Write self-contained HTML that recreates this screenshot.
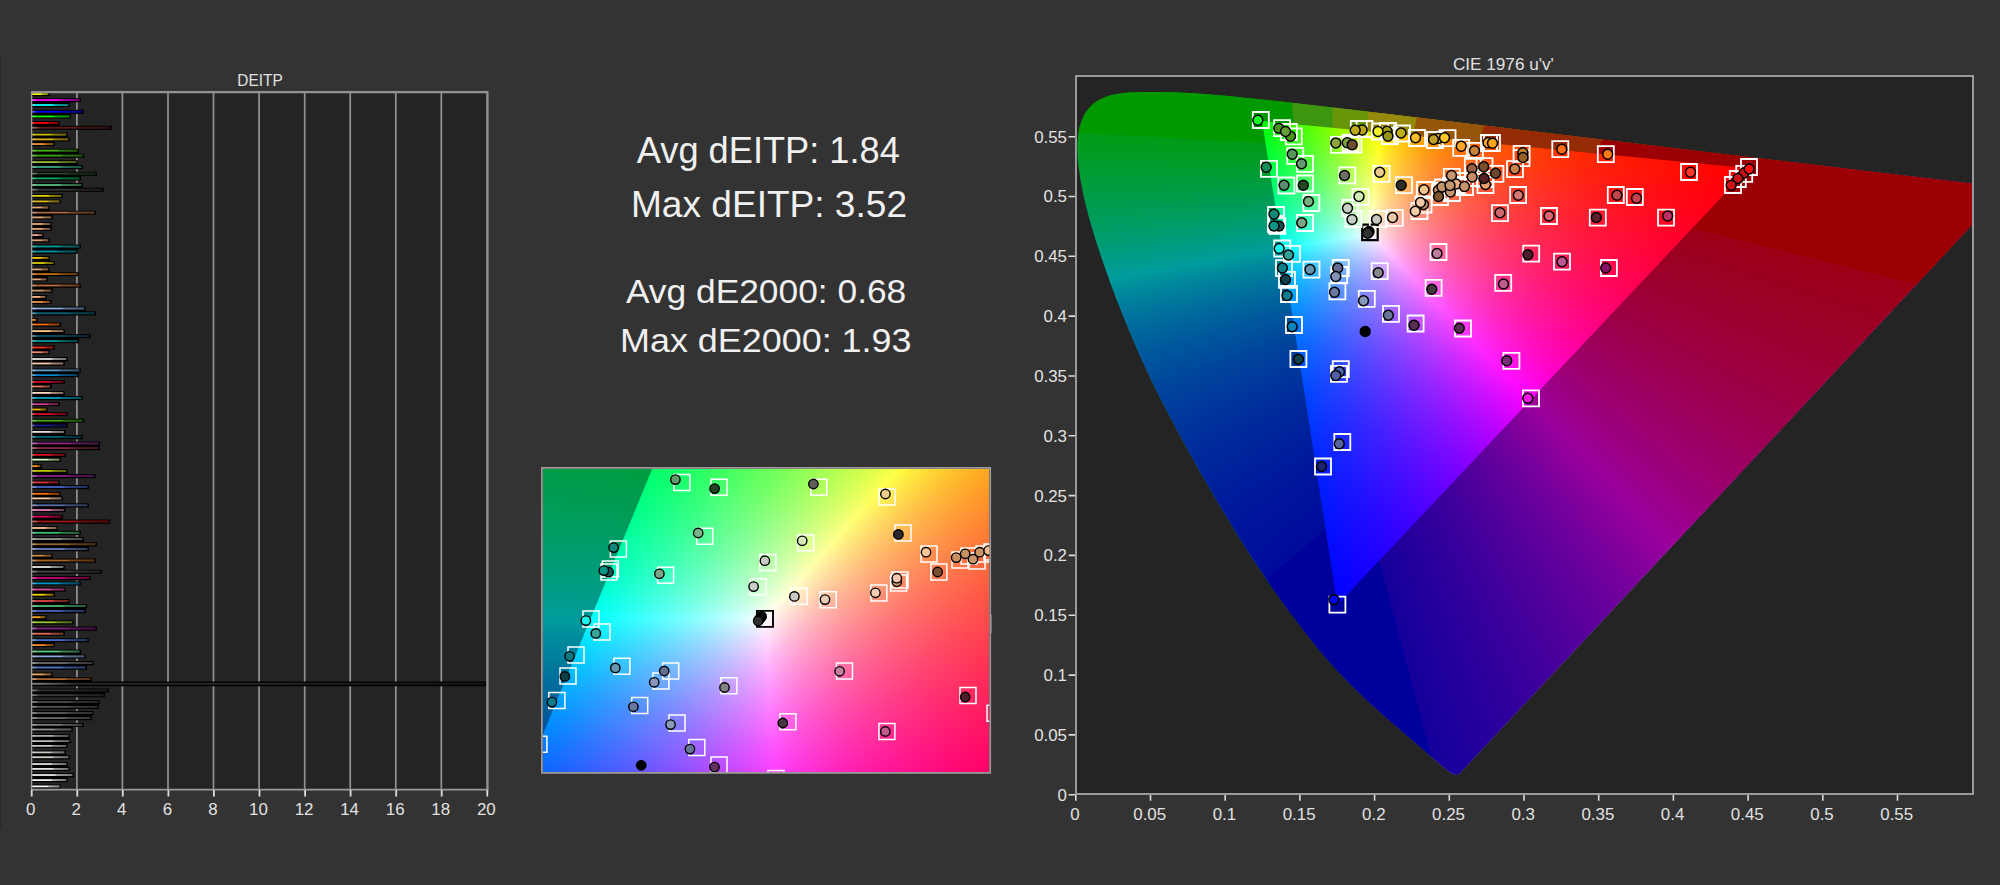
<!DOCTYPE html>
<html lang="en"><head><meta charset="utf-8"><title>ColorChecker analysis</title>
<style>html,body{margin:0;padding:0}body{width:2000px;height:885px;position:relative;overflow:hidden;background:#333333;font-family:'Liberation Sans', sans-serif}
.abs{position:absolute}svg text{font-family:'Liberation Sans', sans-serif}</style></head><body>
<div class="abs" style="left:0;top:54px;width:1px;height:775px;background:#282828"></div>
<div class="abs" style="left:31px;top:91px;width:457px;height:699px;background:#242424"></div>
<div class="abs" style="left:1075px;top:75px;width:899px;height:720px;background:#242424"></div>
<div style="position:absolute;left:1077px;top:77px;width:896px;height:716px;overflow:hidden;clip-path:polygon(382.1px 697.2px,380.8px 697.3px,380.4px 697.8px,380.0px 697.9px,376.9px 697.6px,373.7px 695.8px,370.3px 693.4px,360.2px 685.0px,344.6px 671.3px,306.1px 638.1px,288.5px 622.1px,273.5px 607.6px,256.9px 590.0px,244.1px 575.3px,229.6px 557.3px,213.6px 536.3px,196.6px 512.7px,178.8px 486.5px,160.2px 457.4px,141.2px 426.0px,122.0px 392.9px,103.0px 358.8px,84.8px 324.2px,76.2px 306.9px,68.1px 289.7px,60.4px 272.8px,53.3px 256.3px,40.4px 224.4px,29.2px 194.5px,19.9px 167.3px,12.6px 143.0px,7.2px 121.7px,3.5px 103.1px,1.2px 87.0px,0.6px 79.8px,0.4px 73.2px,0.4px 67.1px,0.8px 61.3px,1.5px 56.0px,2.4px 51.1px,3.7px 46.5px,5.2px 42.3px,7.0px 38.5px,9.1px 35.0px,11.4px 31.9px,13.9px 29.1px,16.6px 26.6px,19.6px 24.5px,22.7px 22.6px,29.3px 19.7px,32.8px 18.6px,40.2px 17.0px,52.1px 15.6px,68.9px 15.0px,94.4px 15.2px,116.7px 16.3px,145.6px 18.5px,195.3px 23.5px,277.2px 32.9px,929.6px 110.9px);">
<div style="position:absolute;left:0;top:0;width:896px;height:716px;background:conic-gradient(from 178.15deg at 260.41px 527.99px,#000000 0deg,#000000 173.00deg,#250000 176.97deg,#4b0000 180.58deg,#5e0000 182.26deg,#720000 183.91deg,#870000 185.49deg,#9c0000 187.00deg,#9c0000 360deg),conic-gradient(from 87.88deg at 671.65px 91.32px,#00009c 0deg,#00009c 172.32deg,#000087 173.94deg,#000072 175.63deg,#00005e 177.40deg,#00004a 179.29deg,#000037 181.25deg,#000024 183.29deg,#000000 187.68deg,#000000 360deg),#009c00;background-blend-mode:screen,screen,normal;"></div>
<div style="position:absolute;left:0;top:0;width:896px;height:716px;background:conic-gradient(from 333.57deg at 185.05px 43.92px,#9c0000 0deg,#9c0000 162.42deg,#870000 165.59deg,#720000 169.03deg,#5f0000 172.82deg,#4c0000 176.87deg,#390000 181.28deg,#270000 186.12deg,#140000 191.50deg,#000000 197.58deg,#000000 360deg),conic-gradient(from 61.74deg at 671.65px 91.32px,#000000 0deg,#000000 161.54deg,#000d00 169.04deg,#001a00 175.42deg,#002a00 180.88deg,#003b00 185.51deg,#004400 187.63deg,#004f00 189.58deg,#005900 191.33deg,#006500 193.00deg,#007100 194.57deg,#007e00 195.96deg,#008c00 197.26deg,#009c00 198.46deg,#009c00 360deg),#00009c;background-blend-mode:screen,screen,normal;clip-path:polygon(-5618.55px 1178.01px,6206.29px -864.84px,7227.72px 5047.58px,-4597.12px 7090.43px);"></div>
<div style="position:absolute;left:0;top:0;width:896px;height:716px;background:conic-gradient(from 204.22deg at 260.41px 527.99px,#009c00 0deg,#009c00 160.93deg,#008c00 162.08deg,#007d00 163.42deg,#006f00 164.85deg,#006300 166.38deg,#005700 168.01deg,#004d00 169.82deg,#004200 171.83deg,#003900 173.93deg,#003000 176.22deg,#002800 178.71deg,#001900 184.44deg,#000c00 191.13deg,#000000 199.07deg,#000000 360deg),conic-gradient(from 295.78deg at 185.05px 43.92px,#000000 0deg,#000000 159.79deg,#000013 167.08deg,#000025 173.46deg,#000037 179.14deg,#000049 184.21deg,#00005d 188.87deg,#000070 193.02deg,#000085 196.77deg,#00009c 200.21deg,#00009c 360deg),#9c0000;background-blend-mode:screen,screen,normal;clip-path:polygon(293.87px 156.58px,832.34px -5819.21px,5000.90px -1503.75px,4462.43px 4472.03px);"></div>
<svg class="abs" style="left:0;top:0" width="896" height="716" viewBox="0 0 896 716"><path d="M216.60 47.00L-55.5 -2940.6L226.8 -2949.0L255.80 50.82Z" fill="#3c960f"/><path d="M255.80 50.82L226.8 -2949.0L477.0 -2940.0L290.00 54.15Z" fill="#68960a"/><path d="M290.00 54.15L477.0 -2940.0L817.4 -2902.5L336.60 58.69Z" fill="#968a0a"/><path d="M336.60 58.69L817.4 -2902.5L1280.8 -2803.4L402.20 65.07Z" fill="#965508"/><path d="M402.20 65.07L1280.8 -2803.4L2004.3 -2529.6L518.00 76.35Z" fill="#962c05"/><path d="M518.00 76.35 L2004.30 -2529.59 L3430.00 -1088.32 L3526.29 876.53 L615.31 151.14 L671.65 91.32Z" fill="#9b0005"/><path d="M302.11 483.72 L1073.73 3382.78 L-632.91 3391.91 L-2034.41 2398.27 L248.57 452.00 L260.41 527.99Z" fill="#00009b"/><path d="M216.60 47.00 L-55.49 -2940.64 L-1976.06 -2036.85 L-2807.35 -93.06 L188.44 65.71 L185.05 43.92Z" fill="#009900"/></svg>
<div style="position:absolute;left:0;top:0;width:896px;height:716px;background:conic-gradient(from 178.15deg at 260.41px 527.99px,#000000 0deg,#000000 173.00deg,#1e0000 175.04deg,#3c0000 176.97deg,#5b0000 178.82deg,#7a0000 180.58deg,#9a0000 182.26deg,#bb0000 183.91deg,#dd0000 185.49deg,#ff0000 187.00deg,#ff0000 360deg),conic-gradient(from 87.88deg at 671.65px 91.32px,#0000ff 0deg,#0000ff 172.32deg,#0000dd 173.94deg,#0000bb 175.63deg,#00009a 177.40deg,#00007a 179.29deg,#00005a 181.25deg,#00003c 183.29deg,#00001d 185.45deg,#000000 187.68deg,#000000 360deg),#00ff00;background-blend-mode:screen,screen,normal;clip-path:polygon(185.05px 43.92px,205.44px 174.90px,296.65px 159.46px,305.97px 55.70px);"></div>
<div style="position:absolute;left:0;top:0;width:896px;height:716px;background:conic-gradient(from 333.57deg at 185.05px 43.92px,#ff0000 0deg,#ff0000 162.42deg,#dd0000 165.59deg,#bc0000 169.03deg,#9b0000 172.82deg,#7c0000 176.87deg,#5e0000 181.28deg,#3f0000 186.12deg,#200000 191.50deg,#000000 197.58deg,#000000 360deg),conic-gradient(from 61.74deg at 671.65px 91.32px,#000000 0deg,#000000 161.54deg,#000a00 165.43deg,#001500 169.04deg,#002000 172.37deg,#002b00 175.42deg,#003800 178.29deg,#004400 180.88deg,#005200 183.28deg,#006000 185.51deg,#007000 187.63deg,#008100 189.58deg,#009200 191.33deg,#00a500 193.00deg,#00ba00 194.57deg,#00cf00 195.96deg,#00e600 197.26deg,#00ff00 198.46deg,#00ff00 360deg),#0000ff;background-blend-mode:screen,screen,normal;clip-path:polygon(260.41px 527.99px,456.09px 320.21px,295.93px 154.40px,293.87px 156.58px,204.98px 171.94px);"></div>
<div style="position:absolute;left:0;top:0;width:896px;height:716px;background:conic-gradient(from 204.22deg at 260.41px 527.99px,#00ff00 0deg,#00ff00 160.93deg,#00e600 162.08deg,#00cd00 163.42deg,#00b700 164.85deg,#00a200 166.38deg,#008f00 168.01deg,#007d00 169.82deg,#006d00 171.83deg,#005d00 173.93deg,#004f00 176.22deg,#004200 178.71deg,#003500 181.48deg,#002900 184.44deg,#001e00 187.69deg,#001400 191.13deg,#000a00 194.96deg,#000000 199.07deg,#000000 360deg),conic-gradient(from 295.78deg at 185.05px 43.92px,#000000 0deg,#000000 159.79deg,#00001f 167.08deg,#00003d 173.46deg,#00005a 179.14deg,#000078 184.21deg,#000098 188.87deg,#0000a8 190.99deg,#0000b8 193.02deg,#0000c9 194.95deg,#0000da 196.77deg,#0000ec 198.49deg,#0000ff 200.21deg,#0000ff 360deg),#ff0000;background-blend-mode:screen,screen,normal;clip-path:polygon(671.65px 91.32px,302.99px 55.41px,293.87px 156.58px,454.04px 322.39px);"></div>

</div>
<div style="position:absolute;left:543px;top:468.8px;width:446.29999999999995px;height:303.2px;overflow:hidden;">
<div style="position:absolute;left:0;top:0;width:446.29999999999995px;height:303.2px;background:conic-gradient(from 212.12deg at -100.42px 509.40px,#000000 0deg,#000000 170.25deg,#110000 173.33deg,#220000 176.16deg,#340000 178.80deg,#460000 181.29deg,#5a0000 183.64deg,#6f0000 185.79deg,#850000 187.84deg,#9c0000 189.75deg,#9c0000 360deg),conic-gradient(from 104.04deg at 870.12px 148.41px,#00009c 0deg,#00009c 165.85deg,#00008e 166.98deg,#000081 168.19deg,#000075 169.46deg,#00006a 170.81deg,#000054 173.72deg,#000041 176.91deg,#00002f 180.53deg,#00001e 184.58deg,#00000e 189.12deg,#000000 194.15deg,#000000 360deg),#009c00;background-blend-mode:screen,screen,normal;"></div>
<div style="position:absolute;left:0;top:0;width:446.29999999999995px;height:303.2px;background:conic-gradient(from 9.19deg at 196.68px -212.58px,#9c0000 0deg,#9c0000 166.83deg,#780000 172.11deg,#530000 178.05deg,#2d0000 184.79deg,#000000 193.17deg,#000000 360deg),conic-gradient(from 79.74deg at 870.12px 148.41px,#000000 0deg,#000000 169.86deg,#001100 173.06deg,#002200 176.01deg,#003400 178.81deg,#004700 181.40deg,#005a00 183.84deg,#006f00 186.08deg,#008400 188.16deg,#009c00 190.14deg,#009c00 360deg),#00009c;background-blend-mode:screen,screen,normal;clip-path:polygon(-5778.10px 161.80px,6221.88px 137.62px,6233.97px 6137.61px,-5766.01px 6161.79px);"></div>
<div style="position:absolute;left:0;top:0;width:446.29999999999995px;height:303.2px;background:conic-gradient(from 235.73deg at -100.42px 509.40px,#009c00 0deg,#009c00 166.13deg,#008e00 167.25deg,#008100 168.43deg,#007500 169.68deg,#006a00 170.93deg,#005400 173.78deg,#004000 176.98deg,#002e00 180.52deg,#001e00 184.48deg,#000e00 188.93deg,#000000 193.87deg,#000000 360deg),conic-gradient(from 327.11deg at 196.68px -212.58px,#000000 0deg,#000000 151.09deg,#000013 163.84deg,#000023 173.55deg,#000034 181.81deg,#000045 188.77deg,#000057 194.86deg,#000061 197.61deg,#00006b 200.22deg,#000077 202.68deg,#000082 204.86deg,#00008f 207.03deg,#00009c 208.91deg,#00009c 360deg),#9c0000;background-blend-mode:screen,screen,normal;clip-path:polygon(221.89px 149.71px,4226.04px -4318.71px,4642.50px 1666.82px,638.35px 6135.24px);"></div>

<div style="position:absolute;left:0;top:0;width:446.29999999999995px;height:303.2px;background:conic-gradient(from 212.12deg at -100.42px 509.40px,#000000 0deg,#000000 170.25deg,#1b0000 173.33deg,#370000 176.16deg,#550000 178.80deg,#730000 181.29deg,#940000 183.64deg,#b50000 185.79deg,#d90000 187.84deg,#ff0000 189.75deg,#ff0000 360deg),conic-gradient(from 104.04deg at 870.12px 148.41px,#0000ff 0deg,#0000ff 165.85deg,#0000e9 166.98deg,#0000d4 168.19deg,#0000c0 169.46deg,#0000ad 170.81deg,#00009b 172.23deg,#00008a 173.72deg,#00007a 175.28deg,#00006a 176.91deg,#00005b 178.69deg,#00004d 180.53deg,#00003f 182.52deg,#000031 184.58deg,#000018 189.12deg,#000000 194.15deg,#000000 360deg),#00ff00;background-blend-mode:screen,screen,normal;clip-path:polygon(196.68px -212.58px,46.31px 152.84px,222.17px 153.70px,435.66px -84.48px);"></div>
<div style="position:absolute;left:0;top:0;width:446.29999999999995px;height:303.2px;background:conic-gradient(from 9.19deg at 196.68px -212.58px,#ff0000 0deg,#ff0000 166.83deg,#e10000 169.40deg,#c40000 172.11deg,#a60000 175.01deg,#880000 178.05deg,#490000 184.79deg,#000000 193.17deg,#000000 360deg),conic-gradient(from 79.74deg at 870.12px 148.41px,#000000 0deg,#000000 169.86deg,#001b00 173.06deg,#003700 176.01deg,#005500 178.81deg,#007400 181.40deg,#009400 183.84deg,#00b600 186.08deg,#00d900 188.16deg,#00ff00 190.14deg,#00ff00 360deg),#0000ff;background-blend-mode:screen,screen,normal;clip-path:polygon(-100.42px 509.40px,240.97px 382.42px,224.70px 148.67px,221.89px 149.71px,47.45px 150.06px);"></div>
<div style="position:absolute;left:0;top:0;width:446.29999999999995px;height:303.2px;background:conic-gradient(from 235.73deg at -100.42px 509.40px,#00ff00 0deg,#00ff00 166.13deg,#00e900 167.25deg,#00d400 168.43deg,#00bf00 169.68deg,#00ad00 170.93deg,#009b00 172.32deg,#008a00 173.78deg,#007900 175.31deg,#006900 176.98deg,#005a00 178.71deg,#004c00 180.52deg,#003e00 182.47deg,#003100 184.48deg,#001700 188.93deg,#000000 193.87deg,#000000 360deg),conic-gradient(from 327.11deg at 196.68px -212.58px,#000000 0deg,#000000 151.09deg,#00001f 163.84deg,#00003a 173.55deg,#000048 177.90deg,#000055 181.81deg,#000063 185.43deg,#000071 188.77deg,#000080 191.96deg,#00008f 194.86deg,#00009f 197.61deg,#0000b0 200.22deg,#0000c3 202.68deg,#0000d5 204.86deg,#0000ea 207.03deg,#0000ff 208.91deg,#0000ff 360deg),#ff0000;background-blend-mode:screen,screen,normal;clip-path:polygon(870.12px 148.41px,433.02px -85.90px,221.89px 149.71px,238.15px 383.46px);"></div>

</div>
<svg class="abs" style="left:0;top:0" width="2000" height="885" viewBox="0 0 2000 885">
<defs>
<linearGradient id="sh" x1="0" y1="0" x2="1" y2="0"><stop offset="0" stop-color="#fff" stop-opacity=".45"/><stop offset=".1" stop-color="#fff" stop-opacity="0"/><stop offset=".55" stop-color="#000" stop-opacity="0"/><stop offset=".62" stop-color="#000" stop-opacity=".3"/><stop offset="1" stop-color="#000" stop-opacity=".5"/></linearGradient>
<clipPath id="ci"><rect x="543" y="468.8" width="446.29999999999995" height="303.2"/></clipPath>
<clipPath id="cm"><rect x="1077" y="77" width="896" height="716"/></clipPath>
</defs>
<g id="bars">
<path d="M76.9 92V790 M122.4 92V790 M168.0 92V790 M213.5 92V790 M259.1 92V790 M304.7 92V790 M350.2 92V790 M395.8 92V790 M441.3 92V790" stroke="#8f8f8f" stroke-width="1.75" fill="none"/>
<path d="M32 92.15H49.8V96.25H32ZM32 98.15H80.9V102.25H32ZM32 102.10H69.9V103.20H32ZM32 103.05H69.9V107.15H32ZM32 109.80H84.1V113.90H32ZM32 113.75H71.1V114.65H32ZM32 114.50H71.1V118.60H32ZM32 121.05H59.9V125.85H32ZM32 125.80H111.9V129.90H32ZM32 132.65H67.8V137.45H32ZM32 137.40H69.9V141.50H32ZM32 141.35H54.9V142.25H32ZM32 142.10H54.9V146.20H32ZM32 148.70H78.9V153.70H32ZM32 153.65H84.1V157.75H32ZM32 160.15H77.9V165.10H32ZM32 165.05H82.8V169.15H32ZM32 171.65H97.0V175.75H32ZM32 175.60H80.9V176.60H32ZM32 176.45H80.9V180.55H32ZM32 183.05H82.8V187.80H32ZM32 187.75H103.8V191.85H32ZM32 193.95H62.9V198.05H32ZM32 199.45H61.0V203.55H32ZM32 205.55H49.8V210.70H32ZM32 210.65H95.9V214.75H32ZM32 214.60H52.8V215.60H32ZM32 215.45H52.8V219.55H32ZM32 222.05H51.9V227.00H32ZM32 226.95H51.9V231.05H32ZM32 233.15H43.8V238.40H32ZM32 238.35H49.9V242.45H32ZM32 244.55H80.9V248.65H32ZM32 248.50H77.9V249.70H32ZM32 249.55H77.9V253.65H32ZM32 255.95H49.9V261.10H32ZM32 261.05H54.9V265.15H32ZM32 267.45H49.8V272.20H32ZM32 272.15H78.9V276.25H32ZM32 276.10H47.9V277.60H32ZM32 277.45H47.9V281.55H32ZM32 283.55H80.9V287.65H32ZM32 287.50H52.8V288.80H32ZM32 288.65H52.8V292.75H32ZM32 294.95H46.8V300.10H32ZM32 300.05H51.6V304.15H32ZM32 306.55H85.8V311.40H32ZM32 311.35H95.9V315.45H32ZM32 317.95H37.8V322.60H32ZM32 322.55H61.0V326.65H32ZM32 329.15H64.8V334.10H32ZM32 334.05H90.9V338.15H32ZM32 338.00H78.9V339.20H32ZM32 339.05H78.9V343.15H32ZM32 345.55H54.9V349.65H32ZM32 349.50H49.9V350.45H32ZM32 350.30H49.9V354.40H32ZM32 357.05H67.8V361.15H32ZM32 361.00H64.8V361.70H32ZM32 361.55H64.8V365.65H32ZM32 368.45H80.9V372.55H32ZM32 372.40H78.9V373.30H32ZM32 373.15H78.9V377.25H32ZM32 379.95H64.8V384.05H32ZM32 383.90H51.6V384.70H32ZM32 384.55H51.6V388.65H32ZM32 390.95H64.8V396.10H32ZM32 396.05H82.8V400.15H32ZM32 402.25H59.9V406.35H32ZM32 407.55H47.6V412.20H32ZM32 412.15H67.8V416.25H32ZM32 418.75H84.1V422.85H32ZM32 422.70H67.8V423.70H32ZM32 423.55H67.8V427.65H32ZM32 429.95H65.5V435.10H32ZM32 435.05H82.8V439.15H32ZM32 441.45H100.0V446.20H32ZM32 446.15H100.0V450.25H32ZM32 452.90H65.9V457.00H32ZM32 456.85H61.0V457.85H32ZM32 457.70H61.0V461.80H32ZM32 464.15H41.9V469.00H32ZM32 468.95H67.8V474.10H32ZM32 474.05H95.9V478.15H32ZM32 480.45H59.9V485.10H32ZM32 485.05H88.9V489.15H32ZM32 491.85H61.0V496.50H32ZM32 496.45H62.9V500.55H32ZM32 503.35H88.9V507.45H32ZM32 507.30H65.5V508.20H32ZM32 508.05H65.5V512.15H32ZM32 514.70H62.9V519.60H32ZM32 519.55H110.2V523.65H32ZM32 526.05H58.0V530.90H32ZM32 530.85H80.9V534.95H32ZM32 537.05H83.9V542.35H32ZM32 542.30H97.0V546.40H32ZM32 546.25H88.8V547.20H32ZM32 547.05H88.8V551.15H32ZM32 553.70H52.8V558.60H32ZM32 558.55H95.9V562.65H32ZM32 565.05H64.8V569.70H32ZM32 569.65H101.9V573.75H32ZM32 576.05H90.9V580.15H32ZM32 581.45H80.9V585.55H32ZM32 587.55H65.9V591.65H32ZM32 591.50H54.9V592.90H32ZM32 592.75H54.9V596.85H32ZM32 599.05H69.8V604.10H32ZM32 604.05H87.2V608.15H32ZM32 608.00H85.8V609.20H32ZM32 609.05H85.8V613.15H32ZM32 615.25H46.8V620.40H32ZM32 620.35H73.9V624.45H32ZM32 626.55H97.0V630.65H32ZM32 630.50H64.8V631.90H32ZM32 631.75H64.8V635.85H32ZM32 638.15H88.8V642.25H32ZM32 642.10H54.9V643.30H32ZM32 643.15H54.9V647.25H32ZM32 649.55H80.9V654.50H32ZM32 654.45H85.8V658.55H32ZM32 661.05H93.8V665.15H32ZM32 665.00H86.9V665.70H32ZM32 665.55H86.9V669.65H32ZM32 672.45H52.8V677.20H32ZM32 677.15H91.8V681.85H32ZM32 681.45H487.0V686.35H32ZM32 681.80H487.0V685.90H32ZM32 688.45H109.0V692.55H32ZM32 692.40H104.9V693.40H32ZM32 693.25H104.9V697.35H32ZM32 700.05H100.0V704.15H32ZM32 704.00H98.9V705.05H32ZM32 704.90H98.9V709.00H32ZM32 711.05H93.8V715.15H32ZM32 715.00H91.8V716.30H32ZM32 716.15H91.8V720.25H32ZM32 722.90H83.9V727.00H32ZM32 726.85H72.8V727.70H32ZM32 727.55H72.8V731.65H32ZM32 733.95H69.8V739.20H32ZM32 739.15H70.9V743.25H32ZM32 743.10H67.8V744.10H32ZM32 743.95H67.8V748.05H32ZM32 750.45H65.9V755.35H32ZM32 755.30H69.8V759.40H32ZM32 762.05H67.8V767.00H32ZM32 766.95H69.8V771.05H32ZM32 773.05H73.9V777.15H32ZM32 777.00H67.8V778.30H32ZM32 778.15H67.8V782.25H32ZM32 784.45H61.0V788.55H32Z" fill="#000"/>
<rect x="32.3" y="93.20" width="15.9" height="1.8" fill="#ffff00"/>
<rect x="32.3" y="99.20" width="47.0" height="1.8" fill="#ff00ff"/>
<rect x="32.3" y="104.10" width="36.0" height="1.8" fill="#00ffff"/>
<rect x="32.3" y="110.85" width="50.2" height="1.8" fill="#0000ff"/>
<rect x="32.3" y="115.55" width="37.2" height="1.8" fill="#00ff00"/>
<rect x="32.3" y="122.10" width="26.0" height="1.8" fill="#ff0000"/>
<rect x="32.3" y="126.85" width="78.0" height="1.8" fill="#5f1c1c"/>
<rect x="32.3" y="133.70" width="33.9" height="1.8" fill="#c8be00"/>
<rect x="32.3" y="138.45" width="36.0" height="1.8" fill="#dcb414"/>
<rect x="32.3" y="143.15" width="21.0" height="1.8" fill="#f09632"/>
<rect x="32.3" y="149.75" width="45.0" height="1.8" fill="#46b414"/>
<rect x="32.3" y="154.70" width="50.2" height="1.8" fill="#3caa14"/>
<rect x="32.3" y="161.20" width="44.0" height="1.8" fill="#96be32"/>
<rect x="32.3" y="166.10" width="48.9" height="1.8" fill="#3caa82"/>
<rect x="32.3" y="172.70" width="63.1" height="1.8" fill="#284628"/>
<rect x="32.3" y="177.50" width="47.0" height="1.8" fill="#00aa5a"/>
<rect x="32.3" y="184.10" width="48.9" height="1.8" fill="#5abe82"/>
<rect x="32.3" y="188.80" width="69.9" height="1.8" fill="#373737"/>
<rect x="32.3" y="195.00" width="29.0" height="1.8" fill="#e1cd00"/>
<rect x="32.3" y="200.50" width="27.1" height="1.8" fill="#dcbe1e"/>
<rect x="32.3" y="206.60" width="15.9" height="1.8" fill="#e6aa6e"/>
<rect x="32.3" y="211.70" width="62.0" height="1.8" fill="#aa6941"/>
<rect x="32.3" y="216.50" width="18.9" height="1.8" fill="#e6aa78"/>
<rect x="32.3" y="223.10" width="18.0" height="1.8" fill="#e6aa78"/>
<rect x="32.3" y="228.00" width="18.0" height="1.8" fill="#e1a578"/>
<rect x="32.3" y="234.20" width="9.9" height="1.8" fill="#faaa96"/>
<rect x="32.3" y="239.40" width="16.0" height="1.8" fill="#e1a573"/>
<rect x="32.3" y="245.60" width="47.0" height="1.8" fill="#00a0a0"/>
<rect x="32.3" y="250.60" width="44.0" height="1.8" fill="#0096aa"/>
<rect x="32.3" y="257.00" width="16.0" height="1.8" fill="#fac800"/>
<rect x="32.3" y="262.10" width="21.0" height="1.8" fill="#dcd200"/>
<rect x="32.3" y="268.50" width="15.9" height="1.8" fill="#e1a573"/>
<rect x="32.3" y="273.20" width="45.0" height="1.8" fill="#c86e0a"/>
<rect x="32.3" y="278.50" width="14.0" height="1.8" fill="#dcaa78"/>
<rect x="32.3" y="284.60" width="47.0" height="1.8" fill="#be6e3c"/>
<rect x="32.3" y="289.70" width="18.9" height="1.8" fill="#d79b69"/>
<rect x="32.3" y="296.00" width="12.9" height="1.8" fill="#ffb482"/>
<rect x="32.3" y="301.10" width="17.7" height="1.8" fill="#f09646"/>
<rect x="32.3" y="307.60" width="51.9" height="1.8" fill="#8caadc"/>
<rect x="32.3" y="312.40" width="62.0" height="1.8" fill="#00697d"/>
<rect x="32.3" y="319.00" width="3.9" height="1.8" fill="#fa961e"/>
<rect x="32.3" y="323.60" width="27.1" height="1.8" fill="#fa6e0a"/>
<rect x="32.3" y="330.20" width="30.9" height="1.8" fill="#fac891"/>
<rect x="32.3" y="335.10" width="57.0" height="1.8" fill="#0a5064"/>
<rect x="32.3" y="340.10" width="45.0" height="1.8" fill="#009696"/>
<rect x="32.3" y="346.60" width="21.0" height="1.8" fill="#fa3214"/>
<rect x="32.3" y="351.35" width="16.0" height="1.8" fill="#f08c6e"/>
<rect x="32.3" y="358.10" width="33.9" height="1.8" fill="#e1e1dc"/>
<rect x="32.3" y="362.60" width="30.9" height="1.8" fill="#fac8aa"/>
<rect x="32.3" y="369.50" width="47.0" height="1.8" fill="#64a0d2"/>
<rect x="32.3" y="374.20" width="45.0" height="1.8" fill="#0082c8"/>
<rect x="32.3" y="381.00" width="30.9" height="1.8" fill="#d20a28"/>
<rect x="32.3" y="385.60" width="17.7" height="1.8" fill="#e67864"/>
<rect x="32.3" y="392.00" width="30.9" height="1.8" fill="#fad7be"/>
<rect x="32.3" y="397.10" width="48.9" height="1.8" fill="#00a0be"/>
<rect x="32.3" y="403.30" width="26.0" height="1.8" fill="#d23c96"/>
<rect x="32.3" y="408.60" width="13.8" height="1.8" fill="#fab400"/>
<rect x="32.3" y="413.20" width="33.9" height="1.8" fill="#dc0a1e"/>
<rect x="32.3" y="419.80" width="50.2" height="1.8" fill="#3caa14"/>
<rect x="32.3" y="424.60" width="33.9" height="1.8" fill="#141e8c"/>
<rect x="32.3" y="431.00" width="31.6" height="1.8" fill="#e1e1dc"/>
<rect x="32.3" y="436.10" width="48.9" height="1.8" fill="#006478"/>
<rect x="32.3" y="442.50" width="66.1" height="1.8" fill="#8c2882"/>
<rect x="32.3" y="447.20" width="66.1" height="1.8" fill="#822846"/>
<rect x="32.3" y="453.95" width="32.0" height="1.8" fill="#dc141e"/>
<rect x="32.3" y="458.75" width="27.1" height="1.8" fill="#d2ffbe"/>
<rect x="32.3" y="465.20" width="8.0" height="1.8" fill="#fa9614"/>
<rect x="32.3" y="470.00" width="33.9" height="1.8" fill="#bec800"/>
<rect x="32.3" y="475.10" width="62.0" height="1.8" fill="#8c1e8c"/>
<rect x="32.3" y="481.50" width="26.0" height="1.8" fill="#dc323c"/>
<rect x="32.3" y="486.10" width="55.0" height="1.8" fill="#4664c8"/>
<rect x="32.3" y="492.90" width="27.1" height="1.8" fill="#ff6e00"/>
<rect x="32.3" y="497.50" width="29.0" height="1.8" fill="#ffcdaa"/>
<rect x="32.3" y="504.40" width="55.0" height="1.8" fill="#5a6eaa"/>
<rect x="32.3" y="509.10" width="31.6" height="1.8" fill="#e682be"/>
<rect x="32.3" y="515.75" width="29.0" height="1.8" fill="#dc005a"/>
<rect x="32.3" y="520.60" width="76.3" height="1.8" fill="#a01414"/>
<rect x="32.3" y="527.10" width="24.1" height="1.8" fill="#ffc88c"/>
<rect x="32.3" y="531.90" width="47.0" height="1.8" fill="#3cbe6e"/>
<rect x="32.3" y="538.10" width="50.0" height="1.8" fill="#969696"/>
<rect x="32.3" y="543.35" width="63.1" height="1.8" fill="#966428"/>
<rect x="32.3" y="548.10" width="54.9" height="1.8" fill="#6482be"/>
<rect x="32.3" y="554.75" width="18.9" height="1.8" fill="#d28c50"/>
<rect x="32.3" y="559.60" width="62.0" height="1.8" fill="#aa6428"/>
<rect x="32.3" y="566.10" width="30.9" height="1.8" fill="#e6e6e1"/>
<rect x="32.3" y="570.70" width="68.0" height="1.8" fill="#464646"/>
<rect x="32.3" y="577.10" width="57.0" height="1.8" fill="#c80078"/>
<rect x="32.3" y="582.50" width="47.0" height="1.8" fill="#0096c8"/>
<rect x="32.3" y="588.60" width="32.0" height="1.8" fill="#dc5096"/>
<rect x="32.3" y="593.80" width="21.0" height="1.8" fill="#fad200"/>
<rect x="32.3" y="600.10" width="36.0" height="1.8" fill="#dc4646"/>
<rect x="32.3" y="605.10" width="53.4" height="1.8" fill="#50be6e"/>
<rect x="32.3" y="610.10" width="51.9" height="1.8" fill="#4664be"/>
<rect x="32.3" y="616.30" width="12.9" height="1.8" fill="#ffaa1e"/>
<rect x="32.3" y="621.40" width="40.0" height="1.8" fill="#96c832"/>
<rect x="32.3" y="627.60" width="63.1" height="1.8" fill="#821e82"/>
<rect x="32.3" y="632.80" width="30.9" height="1.8" fill="#e66e5a"/>
<rect x="32.3" y="639.20" width="54.9" height="1.8" fill="#466ec8"/>
<rect x="32.3" y="644.20" width="21.0" height="1.8" fill="#fa8c28"/>
<rect x="32.3" y="650.60" width="47.0" height="1.8" fill="#5ac882"/>
<rect x="32.3" y="655.50" width="51.9" height="1.8" fill="#8caadc"/>
<rect x="32.3" y="662.10" width="60.0" height="1.8" fill="#6e6e6e"/>
<rect x="32.3" y="666.60" width="53.0" height="1.8" fill="#5078c8"/>
<rect x="32.3" y="673.50" width="18.9" height="1.8" fill="#f0aa64"/>
<rect x="32.3" y="678.20" width="57.9" height="1.8" fill="#aa6432"/>
<rect x="32.3" y="682.85" width="453.1" height="1.8" fill="#2a2a2a"/>
<rect x="32.3" y="689.50" width="75.1" height="1.8" fill="#323232"/>
<rect x="32.3" y="694.30" width="71.0" height="1.8" fill="#3c3c3c"/>
<rect x="32.3" y="701.10" width="66.1" height="1.8" fill="#4b4b4b"/>
<rect x="32.3" y="705.95" width="65.0" height="1.8" fill="#555555"/>
<rect x="32.3" y="712.10" width="60.0" height="1.8" fill="#5f5f5f"/>
<rect x="32.3" y="717.20" width="57.9" height="1.8" fill="#6e6e6e"/>
<rect x="32.3" y="723.95" width="50.0" height="1.8" fill="#7d7d7d"/>
<rect x="32.3" y="728.60" width="39.0" height="1.8" fill="#969691"/>
<rect x="32.3" y="735.00" width="36.0" height="1.8" fill="#aaaaa5"/>
<rect x="32.3" y="740.20" width="37.0" height="1.8" fill="#b9b9b4"/>
<rect x="32.3" y="745.00" width="33.9" height="1.8" fill="#c3c3be"/>
<rect x="32.3" y="751.50" width="32.0" height="1.8" fill="#c8c8c3"/>
<rect x="32.3" y="756.35" width="36.0" height="1.8" fill="#d2d2cd"/>
<rect x="32.3" y="763.10" width="33.9" height="1.8" fill="#dcdcd7"/>
<rect x="32.3" y="768.00" width="36.0" height="1.8" fill="#e1e1e1"/>
<rect x="32.3" y="774.10" width="40.0" height="1.8" fill="#ebebeb"/>
<rect x="32.3" y="779.20" width="33.9" height="1.8" fill="#f0f0f0"/>
<rect x="32.3" y="785.50" width="27.1" height="1.8" fill="#fafafa"/>
<rect x="32.3" y="93.20" width="15.9" height="1.8" fill="url(#sh)"/>
<rect x="32.3" y="99.20" width="47.0" height="1.8" fill="url(#sh)"/>
<rect x="32.3" y="104.10" width="36.0" height="1.8" fill="url(#sh)"/>
<rect x="32.3" y="110.85" width="50.2" height="1.8" fill="url(#sh)"/>
<rect x="32.3" y="115.55" width="37.2" height="1.8" fill="url(#sh)"/>
<rect x="32.3" y="122.10" width="26.0" height="1.8" fill="url(#sh)"/>
<rect x="32.3" y="126.85" width="78.0" height="1.8" fill="url(#sh)"/>
<rect x="32.3" y="133.70" width="33.9" height="1.8" fill="url(#sh)"/>
<rect x="32.3" y="138.45" width="36.0" height="1.8" fill="url(#sh)"/>
<rect x="32.3" y="143.15" width="21.0" height="1.8" fill="url(#sh)"/>
<rect x="32.3" y="149.75" width="45.0" height="1.8" fill="url(#sh)"/>
<rect x="32.3" y="154.70" width="50.2" height="1.8" fill="url(#sh)"/>
<rect x="32.3" y="161.20" width="44.0" height="1.8" fill="url(#sh)"/>
<rect x="32.3" y="166.10" width="48.9" height="1.8" fill="url(#sh)"/>
<rect x="32.3" y="172.70" width="63.1" height="1.8" fill="url(#sh)"/>
<rect x="32.3" y="177.50" width="47.0" height="1.8" fill="url(#sh)"/>
<rect x="32.3" y="184.10" width="48.9" height="1.8" fill="url(#sh)"/>
<rect x="32.3" y="188.80" width="69.9" height="1.8" fill="url(#sh)"/>
<rect x="32.3" y="195.00" width="29.0" height="1.8" fill="url(#sh)"/>
<rect x="32.3" y="200.50" width="27.1" height="1.8" fill="url(#sh)"/>
<rect x="32.3" y="206.60" width="15.9" height="1.8" fill="url(#sh)"/>
<rect x="32.3" y="211.70" width="62.0" height="1.8" fill="url(#sh)"/>
<rect x="32.3" y="216.50" width="18.9" height="1.8" fill="url(#sh)"/>
<rect x="32.3" y="223.10" width="18.0" height="1.8" fill="url(#sh)"/>
<rect x="32.3" y="228.00" width="18.0" height="1.8" fill="url(#sh)"/>
<rect x="32.3" y="234.20" width="9.9" height="1.8" fill="url(#sh)"/>
<rect x="32.3" y="239.40" width="16.0" height="1.8" fill="url(#sh)"/>
<rect x="32.3" y="245.60" width="47.0" height="1.8" fill="url(#sh)"/>
<rect x="32.3" y="250.60" width="44.0" height="1.8" fill="url(#sh)"/>
<rect x="32.3" y="257.00" width="16.0" height="1.8" fill="url(#sh)"/>
<rect x="32.3" y="262.10" width="21.0" height="1.8" fill="url(#sh)"/>
<rect x="32.3" y="268.50" width="15.9" height="1.8" fill="url(#sh)"/>
<rect x="32.3" y="273.20" width="45.0" height="1.8" fill="url(#sh)"/>
<rect x="32.3" y="278.50" width="14.0" height="1.8" fill="url(#sh)"/>
<rect x="32.3" y="284.60" width="47.0" height="1.8" fill="url(#sh)"/>
<rect x="32.3" y="289.70" width="18.9" height="1.8" fill="url(#sh)"/>
<rect x="32.3" y="296.00" width="12.9" height="1.8" fill="url(#sh)"/>
<rect x="32.3" y="301.10" width="17.7" height="1.8" fill="url(#sh)"/>
<rect x="32.3" y="307.60" width="51.9" height="1.8" fill="url(#sh)"/>
<rect x="32.3" y="312.40" width="62.0" height="1.8" fill="url(#sh)"/>
<rect x="32.3" y="319.00" width="3.9" height="1.8" fill="url(#sh)"/>
<rect x="32.3" y="323.60" width="27.1" height="1.8" fill="url(#sh)"/>
<rect x="32.3" y="330.20" width="30.9" height="1.8" fill="url(#sh)"/>
<rect x="32.3" y="335.10" width="57.0" height="1.8" fill="url(#sh)"/>
<rect x="32.3" y="340.10" width="45.0" height="1.8" fill="url(#sh)"/>
<rect x="32.3" y="346.60" width="21.0" height="1.8" fill="url(#sh)"/>
<rect x="32.3" y="351.35" width="16.0" height="1.8" fill="url(#sh)"/>
<rect x="32.3" y="358.10" width="33.9" height="1.8" fill="url(#sh)"/>
<rect x="32.3" y="362.60" width="30.9" height="1.8" fill="url(#sh)"/>
<rect x="32.3" y="369.50" width="47.0" height="1.8" fill="url(#sh)"/>
<rect x="32.3" y="374.20" width="45.0" height="1.8" fill="url(#sh)"/>
<rect x="32.3" y="381.00" width="30.9" height="1.8" fill="url(#sh)"/>
<rect x="32.3" y="385.60" width="17.7" height="1.8" fill="url(#sh)"/>
<rect x="32.3" y="392.00" width="30.9" height="1.8" fill="url(#sh)"/>
<rect x="32.3" y="397.10" width="48.9" height="1.8" fill="url(#sh)"/>
<rect x="32.3" y="403.30" width="26.0" height="1.8" fill="url(#sh)"/>
<rect x="32.3" y="408.60" width="13.8" height="1.8" fill="url(#sh)"/>
<rect x="32.3" y="413.20" width="33.9" height="1.8" fill="url(#sh)"/>
<rect x="32.3" y="419.80" width="50.2" height="1.8" fill="url(#sh)"/>
<rect x="32.3" y="424.60" width="33.9" height="1.8" fill="url(#sh)"/>
<rect x="32.3" y="431.00" width="31.6" height="1.8" fill="url(#sh)"/>
<rect x="32.3" y="436.10" width="48.9" height="1.8" fill="url(#sh)"/>
<rect x="32.3" y="442.50" width="66.1" height="1.8" fill="url(#sh)"/>
<rect x="32.3" y="447.20" width="66.1" height="1.8" fill="url(#sh)"/>
<rect x="32.3" y="453.95" width="32.0" height="1.8" fill="url(#sh)"/>
<rect x="32.3" y="458.75" width="27.1" height="1.8" fill="url(#sh)"/>
<rect x="32.3" y="465.20" width="8.0" height="1.8" fill="url(#sh)"/>
<rect x="32.3" y="470.00" width="33.9" height="1.8" fill="url(#sh)"/>
<rect x="32.3" y="475.10" width="62.0" height="1.8" fill="url(#sh)"/>
<rect x="32.3" y="481.50" width="26.0" height="1.8" fill="url(#sh)"/>
<rect x="32.3" y="486.10" width="55.0" height="1.8" fill="url(#sh)"/>
<rect x="32.3" y="492.90" width="27.1" height="1.8" fill="url(#sh)"/>
<rect x="32.3" y="497.50" width="29.0" height="1.8" fill="url(#sh)"/>
<rect x="32.3" y="504.40" width="55.0" height="1.8" fill="url(#sh)"/>
<rect x="32.3" y="509.10" width="31.6" height="1.8" fill="url(#sh)"/>
<rect x="32.3" y="515.75" width="29.0" height="1.8" fill="url(#sh)"/>
<rect x="32.3" y="520.60" width="76.3" height="1.8" fill="url(#sh)"/>
<rect x="32.3" y="527.10" width="24.1" height="1.8" fill="url(#sh)"/>
<rect x="32.3" y="531.90" width="47.0" height="1.8" fill="url(#sh)"/>
<rect x="32.3" y="538.10" width="50.0" height="1.8" fill="url(#sh)"/>
<rect x="32.3" y="543.35" width="63.1" height="1.8" fill="url(#sh)"/>
<rect x="32.3" y="548.10" width="54.9" height="1.8" fill="url(#sh)"/>
<rect x="32.3" y="554.75" width="18.9" height="1.8" fill="url(#sh)"/>
<rect x="32.3" y="559.60" width="62.0" height="1.8" fill="url(#sh)"/>
<rect x="32.3" y="566.10" width="30.9" height="1.8" fill="url(#sh)"/>
<rect x="32.3" y="570.70" width="68.0" height="1.8" fill="url(#sh)"/>
<rect x="32.3" y="577.10" width="57.0" height="1.8" fill="url(#sh)"/>
<rect x="32.3" y="582.50" width="47.0" height="1.8" fill="url(#sh)"/>
<rect x="32.3" y="588.60" width="32.0" height="1.8" fill="url(#sh)"/>
<rect x="32.3" y="593.80" width="21.0" height="1.8" fill="url(#sh)"/>
<rect x="32.3" y="600.10" width="36.0" height="1.8" fill="url(#sh)"/>
<rect x="32.3" y="605.10" width="53.4" height="1.8" fill="url(#sh)"/>
<rect x="32.3" y="610.10" width="51.9" height="1.8" fill="url(#sh)"/>
<rect x="32.3" y="616.30" width="12.9" height="1.8" fill="url(#sh)"/>
<rect x="32.3" y="621.40" width="40.0" height="1.8" fill="url(#sh)"/>
<rect x="32.3" y="627.60" width="63.1" height="1.8" fill="url(#sh)"/>
<rect x="32.3" y="632.80" width="30.9" height="1.8" fill="url(#sh)"/>
<rect x="32.3" y="639.20" width="54.9" height="1.8" fill="url(#sh)"/>
<rect x="32.3" y="644.20" width="21.0" height="1.8" fill="url(#sh)"/>
<rect x="32.3" y="650.60" width="47.0" height="1.8" fill="url(#sh)"/>
<rect x="32.3" y="655.50" width="51.9" height="1.8" fill="url(#sh)"/>
<rect x="32.3" y="662.10" width="60.0" height="1.8" fill="url(#sh)"/>
<rect x="32.3" y="666.60" width="53.0" height="1.8" fill="url(#sh)"/>
<rect x="32.3" y="673.50" width="18.9" height="1.8" fill="url(#sh)"/>
<rect x="32.3" y="678.20" width="57.9" height="1.8" fill="url(#sh)"/>
<rect x="32.3" y="682.85" width="453.1" height="1.8" fill="url(#sh)"/>
<rect x="32.3" y="689.50" width="75.1" height="1.8" fill="url(#sh)"/>
<rect x="32.3" y="694.30" width="71.0" height="1.8" fill="url(#sh)"/>
<rect x="32.3" y="701.10" width="66.1" height="1.8" fill="url(#sh)"/>
<rect x="32.3" y="705.95" width="65.0" height="1.8" fill="url(#sh)"/>
<rect x="32.3" y="712.10" width="60.0" height="1.8" fill="url(#sh)"/>
<rect x="32.3" y="717.20" width="57.9" height="1.8" fill="url(#sh)"/>
<rect x="32.3" y="723.95" width="50.0" height="1.8" fill="url(#sh)"/>
<rect x="32.3" y="728.60" width="39.0" height="1.8" fill="url(#sh)"/>
<rect x="32.3" y="735.00" width="36.0" height="1.8" fill="url(#sh)"/>
<rect x="32.3" y="740.20" width="37.0" height="1.8" fill="url(#sh)"/>
<rect x="32.3" y="745.00" width="33.9" height="1.8" fill="url(#sh)"/>
<rect x="32.3" y="751.50" width="32.0" height="1.8" fill="url(#sh)"/>
<rect x="32.3" y="756.35" width="36.0" height="1.8" fill="url(#sh)"/>
<rect x="32.3" y="763.10" width="33.9" height="1.8" fill="url(#sh)"/>
<rect x="32.3" y="768.00" width="36.0" height="1.8" fill="url(#sh)"/>
<rect x="32.3" y="774.10" width="40.0" height="1.8" fill="url(#sh)"/>
<rect x="32.3" y="779.20" width="33.9" height="1.8" fill="url(#sh)"/>
<rect x="32.3" y="785.50" width="27.1" height="1.8" fill="url(#sh)"/>
<path d="M31.6 790V92" stroke="#9a9a9a" stroke-width="1.4" fill="none"/>
<path d="M31 92.1H488.4M487.4 92V790" stroke="#929292" stroke-width="2.3" fill="none"/>
<path d="M31 789.6H488.4" stroke="#9a9a9a" stroke-width="1.6" fill="none"/>
<path d="M31.7 790V796.6 M77.3 790V796.6 M122.8 790V796.6 M168.4 790V796.6 M213.9 790V796.6 M259.5 790V796.6 M305.1 790V796.6 M350.6 790V796.6 M396.2 790V796.6 M441.7 790V796.6 M487.3 790V796.6" stroke="#dcdcdc" stroke-width="1.8" fill="none"/>
<text x="30.7" y="815.3" font-size="16.9" fill="#e1e1e1" text-anchor="middle">0</text>
<text x="76.3" y="815.3" font-size="16.9" fill="#e1e1e1" text-anchor="middle">2</text>
<text x="121.8" y="815.3" font-size="16.9" fill="#e1e1e1" text-anchor="middle">4</text>
<text x="167.4" y="815.3" font-size="16.9" fill="#e1e1e1" text-anchor="middle">6</text>
<text x="212.9" y="815.3" font-size="16.9" fill="#e1e1e1" text-anchor="middle">8</text>
<text x="258.5" y="815.3" font-size="16.9" fill="#e1e1e1" text-anchor="middle">10</text>
<text x="304.1" y="815.3" font-size="16.9" fill="#e1e1e1" text-anchor="middle">12</text>
<text x="349.6" y="815.3" font-size="16.9" fill="#e1e1e1" text-anchor="middle">14</text>
<text x="395.2" y="815.3" font-size="16.9" fill="#e1e1e1" text-anchor="middle">16</text>
<text x="440.7" y="815.3" font-size="16.9" fill="#e1e1e1" text-anchor="middle">18</text>
<text x="486.3" y="815.3" font-size="16.9" fill="#e1e1e1" text-anchor="middle">20</text>
<text x="260" y="86" font-size="16.8" fill="#e1e1e1" text-anchor="middle" textLength="45.4" lengthAdjust="spacingAndGlyphs">DEITP</text>
</g>
<g fill="#f0f0f0">
<text x="636.8" y="162.7" font-size="37" textLength="263" lengthAdjust="spacingAndGlyphs">Avg dEITP: 1.84</text>
<text x="631" y="216.7" font-size="37" textLength="276" lengthAdjust="spacingAndGlyphs">Max dEITP: 3.52</text>
<text x="625.9" y="302.6" font-size="34" textLength="280.4" lengthAdjust="spacingAndGlyphs">Avg dE2000: 0.68</text>
<text x="620" y="351.6" font-size="34" textLength="291.5" lengthAdjust="spacingAndGlyphs">Max dE2000: 1.93</text>
</g>
<g id="inset">
<rect x="541.9" y="467.9" width="448.3" height="305" fill="none" stroke="#9d9898" stroke-width="1.8"/>
<rect x="990.6" y="614.7" width="1" height="18.3" fill="#9d9898"/>
<g clip-path="url(#ci)">
<path d="M757.0 610.9h16v16h-16z" fill="none" stroke="#000" stroke-width="1.9"/>
<path d="M673.9 474.5h16v16h-16zM711.0 479.3h16v16h-16zM696.7 528.2h16v16h-16zM610.4 541.0h16v16h-16zM810.8 479.3h16v16h-16zM879.0 488.9h16v16h-16zM895.0 525.0h16v16h-16zM797.7 534.8h16v16h-16zM759.9 554.6h16v16h-16zM921.0 546.0h16v16h-16zM952.0 552.0h16v16h-16zM961.0 548.0h16v16h-16zM969.0 553.0h16v16h-16zM976.0 546.0h16v16h-16zM984.0 544.0h16v16h-16zM602.4 561.1h16v16h-16zM601.0 564.0h16v16h-16zM657.6 567.2h16v16h-16zM750.2 578.7h16v16h-16zM583.0 611.1h16v16h-16zM594.0 624.0h16v16h-16zM568.0 647.1h16v16h-16zM791.1 588.2h16v16h-16zM820.2 591.8h16v16h-16zM870.8 585.1h16v16h-16zM892.0 572.0h16v16h-16zM890.6 575.1h16v16h-16zM930.9 564.0h16v16h-16zM560.0 668.0h16v16h-16zM548.9 692.4h16v16h-16zM613.9 658.3h16v16h-16zM662.7 663.0h16v16h-16zM652.9 673.0h16v16h-16zM631.7 697.4h16v16h-16zM720.9 677.8h16v16h-16zM669.0 714.9h16v16h-16zM688.8 739.5h16v16h-16zM711.0 757.0h16v16h-16zM530.9 736.3h16v16h-16zM836.5 663.0h16v16h-16zM960.0 687.5h16v16h-16zM779.9 713.7h16v16h-16zM878.9 723.4h16v16h-16zM987.0 705.3h16v16h-16zM768.0 770.5h16v16h-16z" fill="none" stroke="#fff" stroke-width="1.5"/>
<g stroke="#000" stroke-width="1.4">
<circle cx="675.4" cy="479.6" r="4.7" fill="#649b6e"/>
<circle cx="714.6" cy="488.6" r="4.7" fill="#234123"/>
<circle cx="698.2" cy="533" r="4.7" fill="#78b487"/>
<circle cx="613.6" cy="547.6" r="4.7" fill="#0f8778"/>
<circle cx="813.4" cy="484" r="4.7" fill="#5f5f5a"/>
<circle cx="885.4" cy="494" r="4.7" fill="#f0cd8c"/>
<circle cx="898.4" cy="534.4" r="4.7" fill="#2d282d"/>
<circle cx="802.2" cy="540.8" r="4.7" fill="#d7ebb9"/>
<circle cx="764.9" cy="560.7" r="4.7" fill="#c8cdc3"/>
<circle cx="926" cy="552.2" r="4.7" fill="#f5c896"/>
<circle cx="956.2" cy="557.6" r="4.7" fill="#c89164"/>
<circle cx="965.2" cy="553.8" r="4.7" fill="#c89164"/>
<circle cx="973" cy="559.2" r="4.7" fill="#c89669"/>
<circle cx="979.6" cy="552.2" r="4.7" fill="#cd9669"/>
<circle cx="988.6" cy="550.6" r="4.7" fill="#f0be8c"/>
<circle cx="608.6" cy="572.2" r="4.7" fill="#195055"/>
<circle cx="603.8" cy="570.6" r="4.7" fill="#0a9687"/>
<circle cx="659.4" cy="573.8" r="4.7" fill="#7da587"/>
<circle cx="753.6" cy="586.6" r="4.7" fill="#c8cdc3"/>
<circle cx="761.6" cy="616.4" r="4.7" fill="#2d2d2d"/>
<circle cx="760.7" cy="617.5" r="4.7" fill="#2d2d2d"/>
<circle cx="759.9" cy="618.7" r="4.7" fill="#2d2d2d"/>
<circle cx="759" cy="619.8" r="4.7" fill="#2d2d2d"/>
<circle cx="758.2" cy="620.9" r="4.7" fill="#303030"/>
<circle cx="585.8" cy="620.6" r="4.7" fill="#14faf0"/>
<circle cx="595.8" cy="633.4" r="4.7" fill="#37a59b"/>
<circle cx="569.6" cy="656.3" r="4.7" fill="#0f7882"/>
<circle cx="794.4" cy="596.4" r="4.7" fill="#c8c8c3"/>
<circle cx="825" cy="599.6" r="4.7" fill="#ebcdb4"/>
<circle cx="875.4" cy="592.8" r="4.7" fill="#facdaf"/>
<circle cx="896.8" cy="581.8" r="4.7" fill="#c89664"/>
<circle cx="896.8" cy="578.2" r="4.7" fill="#fac8af"/>
<circle cx="937.6" cy="572" r="4.7" fill="#78502d"/>
<circle cx="564.9" cy="676.4" r="4.7" fill="#0f414b"/>
<circle cx="551.9" cy="702.1" r="4.7" fill="#0a7d8c"/>
<circle cx="615.3" cy="667.9" r="4.7" fill="#6496af"/>
<circle cx="664.2" cy="671" r="4.7" fill="#646e91"/>
<circle cx="654.2" cy="682.3" r="4.7" fill="#8796b9"/>
<circle cx="633.4" cy="706.8" r="4.7" fill="#6978a0"/>
<circle cx="724.5" cy="687.5" r="4.7" fill="#828287"/>
<circle cx="670.5" cy="724.6" r="4.7" fill="#879bb9"/>
<circle cx="689.9" cy="749.1" r="4.7" fill="#697396"/>
<circle cx="714.5" cy="767.1" r="4.7" fill="#64325f"/>
<circle cx="641.2" cy="765.3" r="4.7" fill="#000000"/>
<circle cx="839.6" cy="671.3" r="4.7" fill="#c382a0"/>
<circle cx="965.2" cy="697" r="4.7" fill="#4b1e2d"/>
<circle cx="782.8" cy="723" r="4.7" fill="#463741"/>
<circle cx="885.3" cy="731.5" r="4.7" fill="#c35a8c"/>
</g></g></g>
<g id="cie">
<path d="M1076 795V76H1973V795" stroke="#9a9a9a" stroke-width="2" fill="none"/>
<path d="M1075 794H1974" stroke="#9a9a9a" stroke-width="2" fill="none"/>
<path d="M1075.8 795V800.8 M1150.5 795V800.8 M1225.2 795V800.8 M1299.9 795V800.8 M1374.6 795V800.8 M1449.3 795V800.8 M1524.0 795V800.8 M1598.7 795V800.8 M1673.4 795V800.8 M1748.1 795V800.8 M1822.8 795V800.8 M1897.5 795V800.8 M1075 794.7H1068.6 M1075 734.9H1068.6 M1075 675.1H1068.6 M1075 615.2H1068.6 M1075 555.4H1068.6 M1075 495.6H1068.6 M1075 435.8H1068.6 M1075 376.0H1068.6 M1075 316.1H1068.6 M1075 256.3H1068.6 M1075 196.5H1068.6 M1075 136.7H1068.6" stroke="#dcdcdc" stroke-width="1.6" fill="none"/>
<text x="1075.0" y="820.3" font-size="16.9" fill="#e1e1e1" text-anchor="middle">0</text>
<text x="1149.7" y="820.3" font-size="16.9" fill="#e1e1e1" text-anchor="middle">0.05</text>
<text x="1224.4" y="820.3" font-size="16.9" fill="#e1e1e1" text-anchor="middle">0.1</text>
<text x="1299.1" y="820.3" font-size="16.9" fill="#e1e1e1" text-anchor="middle">0.15</text>
<text x="1373.8" y="820.3" font-size="16.9" fill="#e1e1e1" text-anchor="middle">0.2</text>
<text x="1448.5" y="820.3" font-size="16.9" fill="#e1e1e1" text-anchor="middle">0.25</text>
<text x="1523.2" y="820.3" font-size="16.9" fill="#e1e1e1" text-anchor="middle">0.3</text>
<text x="1597.9" y="820.3" font-size="16.9" fill="#e1e1e1" text-anchor="middle">0.35</text>
<text x="1672.6" y="820.3" font-size="16.9" fill="#e1e1e1" text-anchor="middle">0.4</text>
<text x="1747.3" y="820.3" font-size="16.9" fill="#e1e1e1" text-anchor="middle">0.45</text>
<text x="1822.0" y="820.3" font-size="16.9" fill="#e1e1e1" text-anchor="middle">0.5</text>
<text x="1896.7" y="820.3" font-size="16.9" fill="#e1e1e1" text-anchor="middle">0.55</text>
<text x="1067" y="800.6" font-size="16.9" fill="#e1e1e1" text-anchor="end">0</text>
<text x="1067" y="740.8" font-size="16.9" fill="#e1e1e1" text-anchor="end">0.05</text>
<text x="1067" y="681.0" font-size="16.9" fill="#e1e1e1" text-anchor="end">0.1</text>
<text x="1067" y="621.1" font-size="16.9" fill="#e1e1e1" text-anchor="end">0.15</text>
<text x="1067" y="561.3" font-size="16.9" fill="#e1e1e1" text-anchor="end">0.2</text>
<text x="1067" y="501.5" font-size="16.9" fill="#e1e1e1" text-anchor="end">0.25</text>
<text x="1067" y="441.7" font-size="16.9" fill="#e1e1e1" text-anchor="end">0.3</text>
<text x="1067" y="381.9" font-size="16.9" fill="#e1e1e1" text-anchor="end">0.35</text>
<text x="1067" y="322.0" font-size="16.9" fill="#e1e1e1" text-anchor="end">0.4</text>
<text x="1067" y="262.2" font-size="16.9" fill="#e1e1e1" text-anchor="end">0.45</text>
<text x="1067" y="202.4" font-size="16.9" fill="#e1e1e1" text-anchor="end">0.5</text>
<text x="1067" y="142.6" font-size="16.9" fill="#e1e1e1" text-anchor="end">0.55</text>
<text x="1503.4" y="70" font-size="17.2" fill="#e1e1e1" text-anchor="middle" textLength="101" lengthAdjust="spacingAndGlyphs">CIE 1976 u'v'</text>
<path d="M1362.2 224.6h15.5v15.5h-15.5z" fill="none" stroke="#000" stroke-width="2.2"/>
<path d="M1252.8 112.0h16v16h-16zM1274.1 120.1h16v16h-16zM1280.8 124.0h16v16h-16zM1285.8 128.3h16v16h-16zM1287.3 147.8h16v16h-16zM1297.0 155.8h16v16h-16zM1261.0 160.8h16v16h-16zM1278.4 177.5h16v16h-16zM1297.0 175.5h16v16h-16zM1331.0 136.8h16v16h-16zM1342.5 135.0h16v16h-16zM1345.5 136.5h16v16h-16zM1350.8 121.0h16v16h-16zM1356.5 121.0h16v16h-16zM1372.0 123.5h16v16h-16zM1380.0 123.0h16v16h-16zM1382.0 128.0h16v16h-16zM1394.0 125.5h16v16h-16zM1409.0 130.0h16v16h-16zM1427.0 132.0h16v16h-16zM1439.5 130.2h16v16h-16zM1339.4 167.3h16v16h-16zM1373.6 165.8h16v16h-16zM1396.0 177.2h16v16h-16zM1453.2 139.8h16v16h-16zM1466.8 142.8h16v16h-16zM1481.0 135.0h16v16h-16zM1484.0 135.0h16v16h-16zM1513.6 145.8h16v16h-16zM1513.5 150.2h16v16h-16zM1507.0 161.2h16v16h-16zM1552.3 141.2h16v16h-16zM1597.8 146.2h16v16h-16zM1510.1 187.0h16v16h-16zM1607.8 187.0h16v16h-16zM1626.8 189.0h16v16h-16zM1443.8 168.8h16v16h-16zM1464.8 157.8h16v16h-16zM1476.5 158.2h16v16h-16zM1487.4 165.8h16v16h-16zM1465.0 170.0h16v16h-16zM1477.0 171.0h16v16h-16zM1477.5 177.0h16v16h-16zM1443.0 178.0h16v16h-16zM1449.0 177.0h16v16h-16zM1457.0 179.0h16v16h-16zM1435.0 179.5h16v16h-16zM1432.0 189.0h16v16h-16zM1417.0 182.0h16v16h-16zM1415.5 196.5h16v16h-16zM1411.5 203.0h16v16h-16zM1741.0 159.0h16v16h-16zM1736.2 165.8h16v16h-16zM1729.8 171.0h16v16h-16zM1725.0 177.0h16v16h-16zM1681.0 164.0h16v16h-16zM1658.0 209.7h16v16h-16zM1303.4 195.0h16v16h-16zM1268.0 207.0h16v16h-16zM1269.2 217.8h16v16h-16zM1268.0 216.0h16v16h-16zM1297.0 215.0h16v16h-16zM1352.5 188.8h16v16h-16zM1342.3 200.0h16v16h-16zM1345.5 211.0h16v16h-16zM1369.8 211.2h16v16h-16zM1386.8 209.8h16v16h-16zM1274.2 240.5h16v16h-16zM1284.0 245.8h16v16h-16zM1276.0 260.2h16v16h-16zM1303.5 261.7h16v16h-16zM1332.8 260.0h16v16h-16zM1371.7 263.2h16v16h-16zM1430.5 244.0h16v16h-16zM1492.0 205.2h16v16h-16zM1541.0 208.0h16v16h-16zM1589.8 209.6h16v16h-16zM1523.2 245.7h16v16h-16zM1554.0 253.7h16v16h-16zM1600.9 260.0h16v16h-16zM1279.0 271.8h16v16h-16zM1281.0 286.0h16v16h-16zM1331.2 267.0h16v16h-16zM1329.4 283.4h16v16h-16zM1358.8 290.8h16v16h-16zM1383.0 305.8h16v16h-16zM1407.6 315.5h16v16h-16zM1425.6 279.8h16v16h-16zM1286.0 317.0h16v16h-16zM1455.0 320.5h16v16h-16zM1290.4 351.0h16v16h-16zM1332.8 361.2h16v16h-16zM1331.0 365.8h16v16h-16zM1503.4 352.8h16v16h-16zM1495.2 274.8h16v16h-16zM1523.0 390.3h16v16h-16zM1334.3 434.0h16v16h-16zM1315.0 458.5h16v16h-16zM1329.4 596.6h16v16h-16zM1432.0 183.0h16v16h-16zM1444.0 185.0h16v16h-16zM1453.0 173.0h16v16h-16z" fill="none" stroke="#fff" stroke-width="1.8"/>
<g stroke="#000" stroke-width="1.5">
<circle cx="1257.8" cy="120.3" r="4.95" fill="#14ff28"/>
<circle cx="1278.8" cy="128.2" r="4.95" fill="#46961e"/>
<circle cx="1290.5" cy="136.2" r="4.95" fill="#4b9619"/>
<circle cx="1285.5" cy="131.5" r="4.95" fill="#64a032"/>
<circle cx="1292.2" cy="154.3" r="4.95" fill="#55965a"/>
<circle cx="1301.5" cy="163.8" r="4.95" fill="#649b6e"/>
<circle cx="1266.2" cy="167.2" r="4.95" fill="#148c5a"/>
<circle cx="1284" cy="185.3" r="4.95" fill="#5a8c6e"/>
<circle cx="1303.3" cy="185.3" r="4.95" fill="#234623"/>
<circle cx="1335.8" cy="143" r="4.95" fill="#8ca53c"/>
<circle cx="1347.2" cy="142.8" r="4.95" fill="#82a03c"/>
<circle cx="1352.2" cy="144.8" r="4.95" fill="#6e502d"/>
<circle cx="1362.2" cy="130" r="4.95" fill="#b9a514"/>
<circle cx="1355.2" cy="130.2" r="4.95" fill="#beaa14"/>
<circle cx="1387" cy="131.2" r="4.95" fill="#aaa014"/>
<circle cx="1378" cy="131.5" r="4.95" fill="#f0f028"/>
<circle cx="1388" cy="136.3" r="4.95" fill="#969614"/>
<circle cx="1401" cy="133" r="4.95" fill="#beaf14"/>
<circle cx="1415.5" cy="137.8" r="4.95" fill="#ffbe28"/>
<circle cx="1438" cy="138.5" r="4.95" fill="#ffc328"/>
<circle cx="1433.5" cy="139.5" r="4.95" fill="#bea028"/>
<circle cx="1444.5" cy="137.8" r="4.95" fill="#ffc828"/>
<circle cx="1344.5" cy="175.5" r="4.95" fill="#6e6e64"/>
<circle cx="1379.7" cy="172.2" r="4.95" fill="#ebc88c"/>
<circle cx="1401.2" cy="185.3" r="4.95" fill="#322d2d"/>
<circle cx="1461.2" cy="146.2" r="4.95" fill="#ffa528"/>
<circle cx="1474.5" cy="150.8" r="4.95" fill="#c88237"/>
<circle cx="1488" cy="142.8" r="4.95" fill="#ffa51e"/>
<circle cx="1492.5" cy="143.2" r="4.95" fill="#ffa51e"/>
<circle cx="1522.8" cy="152.8" r="4.95" fill="#c88228"/>
<circle cx="1523" cy="157.5" r="4.95" fill="#965f23"/>
<circle cx="1514.8" cy="169" r="4.95" fill="#c88246"/>
<circle cx="1561.8" cy="149.2" r="4.95" fill="#ff6e14"/>
<circle cx="1607.7" cy="154.2" r="4.95" fill="#ff7814"/>
<circle cx="1518.3" cy="195.2" r="4.95" fill="#d77878"/>
<circle cx="1617" cy="195.2" r="4.95" fill="#be464b"/>
<circle cx="1636.5" cy="198.2" r="4.95" fill="#c84150"/>
<circle cx="1438.4" cy="190.2" r="4.95" fill="#c8966e"/>
<circle cx="1450.4" cy="192" r="4.95" fill="#c8966e"/>
<circle cx="1456" cy="184" r="4.95" fill="#ebaf7d"/>
<circle cx="1442" cy="187" r="4.95" fill="#c3966e"/>
<circle cx="1450" cy="185.5" r="4.95" fill="#c3966e"/>
<circle cx="1464.5" cy="186.5" r="4.95" fill="#c8966e"/>
<circle cx="1451.5" cy="175.5" r="4.95" fill="#c8966e"/>
<circle cx="1485.5" cy="184.5" r="4.95" fill="#eba06e"/>
<circle cx="1472" cy="168.8" r="4.95" fill="#965f41"/>
<circle cx="1472.2" cy="177" r="4.95" fill="#c88c64"/>
<circle cx="1483.7" cy="166.8" r="4.95" fill="#78502d"/>
<circle cx="1484" cy="178.5" r="4.95" fill="#551e23"/>
<circle cx="1495.5" cy="173.2" r="4.95" fill="#6e462d"/>
<circle cx="1438.5" cy="196.5" r="4.95" fill="#7d552d"/>
<circle cx="1424" cy="189.7" r="4.95" fill="#f5c38c"/>
<circle cx="1423.5" cy="204.5" r="4.95" fill="#c89664"/>
<circle cx="1420.5" cy="202.5" r="4.95" fill="#f5c8a5"/>
<circle cx="1415.3" cy="211.3" r="4.95" fill="#f5cda5"/>
<circle cx="1744" cy="173" r="4.95" fill="#c80f14"/>
<circle cx="1737.8" cy="178.5" r="4.95" fill="#c81419"/>
<circle cx="1731.2" cy="185.2" r="4.95" fill="#cd1419"/>
<circle cx="1749.2" cy="169" r="4.95" fill="#ff0a0f"/>
<circle cx="1690.5" cy="172.2" r="4.95" fill="#ff3728"/>
<circle cx="1667.7" cy="216" r="4.95" fill="#be2d64"/>
<circle cx="1308.5" cy="201.5" r="4.95" fill="#78af82"/>
<circle cx="1274" cy="214.2" r="4.95" fill="#0f8778"/>
<circle cx="1279" cy="226" r="4.95" fill="#145050"/>
<circle cx="1274" cy="226" r="4.95" fill="#0a9687"/>
<circle cx="1301.7" cy="222.8" r="4.95" fill="#78a582"/>
<circle cx="1359" cy="196.5" r="4.95" fill="#d2ebb4"/>
<circle cx="1347.5" cy="208.2" r="4.95" fill="#c8cdc3"/>
<circle cx="1352" cy="219.5" r="4.95" fill="#c8cdc3"/>
<circle cx="1376.5" cy="219.5" r="4.95" fill="#c8c8be"/>
<circle cx="1392.5" cy="217.5" r="4.95" fill="#ebc8aa"/>
<circle cx="1369" cy="231.5" r="4.95" fill="#2d2d2d"/>
<circle cx="1368.4" cy="232.4" r="4.95" fill="#2d2d2d"/>
<circle cx="1367.7" cy="233.2" r="4.95" fill="#323232"/>
<circle cx="1279.2" cy="248.5" r="4.95" fill="#14faf0"/>
<circle cx="1288.5" cy="255" r="4.95" fill="#32a096"/>
<circle cx="1282.4" cy="268" r="4.95" fill="#0f7d87"/>
<circle cx="1310" cy="269.5" r="4.95" fill="#6496af"/>
<circle cx="1337.7" cy="267.9" r="4.95" fill="#646e91"/>
<circle cx="1378.2" cy="272.8" r="4.95" fill="#87878c"/>
<circle cx="1437" cy="253.5" r="4.95" fill="#be7da0"/>
<circle cx="1500" cy="212.8" r="4.95" fill="#cd696e"/>
<circle cx="1549" cy="216" r="4.95" fill="#d7646e"/>
<circle cx="1596.3" cy="217.5" r="4.95" fill="#5a1e2d"/>
<circle cx="1527.9" cy="254.8" r="4.95" fill="#4b1e2d"/>
<circle cx="1562" cy="261.8" r="4.95" fill="#be5596"/>
<circle cx="1605.7" cy="268" r="4.95" fill="#870f64"/>
<circle cx="1285.5" cy="279.5" r="4.95" fill="#0f414b"/>
<circle cx="1287" cy="295.5" r="4.95" fill="#0a7d8c"/>
<circle cx="1335.8" cy="276.5" r="4.95" fill="#8291b4"/>
<circle cx="1334.5" cy="292.3" r="4.95" fill="#6978a0"/>
<circle cx="1363.5" cy="300.8" r="4.95" fill="#879bb9"/>
<circle cx="1388.3" cy="315.3" r="4.95" fill="#697396"/>
<circle cx="1414" cy="325.2" r="4.95" fill="#5a2d55"/>
<circle cx="1431.8" cy="289.2" r="4.95" fill="#41373c"/>
<circle cx="1292.2" cy="326.8" r="4.95" fill="#0a82b9"/>
<circle cx="1365.2" cy="331.5" r="4.95" fill="#000000"/>
<circle cx="1459.3" cy="328.3" r="4.95" fill="#552d50"/>
<circle cx="1298.5" cy="359.2" r="4.95" fill="#0f414b"/>
<circle cx="1339.5" cy="371.8" r="4.95" fill="#4b64af"/>
<circle cx="1335.8" cy="375.5" r="4.95" fill="#505fa5"/>
<circle cx="1506.7" cy="360.7" r="4.95" fill="#782d73"/>
<circle cx="1503.5" cy="284" r="4.95" fill="#be5a8c"/>
<circle cx="1527.7" cy="398.3" r="4.95" fill="#ff14e6"/>
<circle cx="1339.2" cy="443.8" r="4.95" fill="#5564a0"/>
<circle cx="1321.5" cy="466.5" r="4.95" fill="#19236e"/>
<circle cx="1333.9" cy="599.6" r="4.95" fill="#0000ff"/>
</g></g>
</svg></body></html>
